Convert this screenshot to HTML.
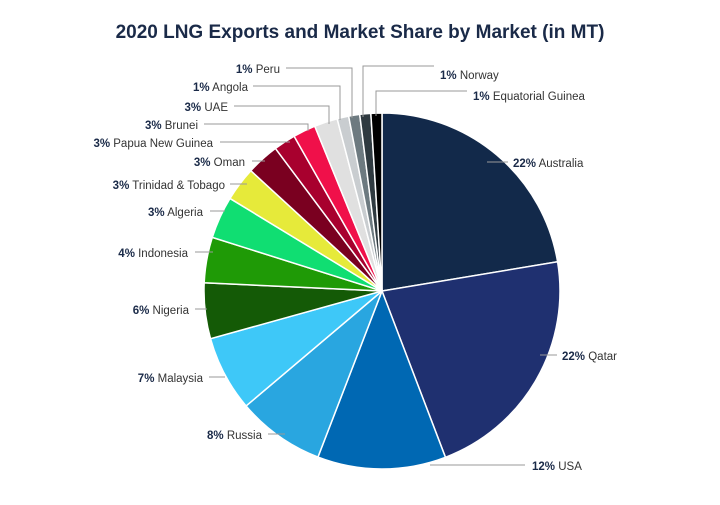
<!DOCTYPE html>
<html><head><meta charset="utf-8"><style>
body{margin:0;background:#fff;width:720px;height:500px;overflow:hidden}
svg{font-family:"Liberation Sans",sans-serif}
</style></head><body>
<svg id="c" width="720" height="500">
<text x="360" y="38" text-anchor="middle" font-size="19" font-weight="bold" fill="#1a2a48">2020 LNG Exports and Market Share by Market (in MT)</text>
<g id="slices"></g><g id="labels"></g>
</svg>
<script>
const categories=["Australia","Qatar","USA","Russia","Malaysia","Nigeria","Indonesia","Algeria","Trinidad & Tobago","Oman","Papua New Guinea","Brunei","UAE","Angola","Peru","Norway","Equatorial Guinea"];
const values=[80.6,78.6,42,28.7,24.7,18.2,14.9,13.8,11.2,10.7,7.2,7.4,7.6,3.8,3.6,3.6,3.6];
const pctLabels=["22%","22%","12%","8%","7%","6%","4%","3%","3%","3%","3%","3%","3%","1%","1%","1%","1%"];
const colors=["#12294a","#1f3070","#0068b3","#29a6e0","#3ec8f8","#145a06","#1f9a06","#10de72","#e6ea3a","#7a0020","#a8002e","#f0104a","#e0e0e0","#c9cdd0","#6d7a80","#2f3a40","#000000"];
// label layout: [textX, textY, anchor, leader points]
const layout=[
[513,167,"start",[[487,162],[508,162]]],
[562,360,"start",[[540,355],[557,355]]],
[532,470,"start",[[430,465],[525,465]]],
[262,439,"end",[[268,434],[285,434]]],
[203,382,"end",[[209,377],[225,377]]],
[189,314,"end",[[195,309],[207,309]]],
[188,257,"end",[[195,252],[213,252]]],
[203,216,"end",[[210,211],[225,211]]],
[225,189,"end",[[230,184],[247,184]]],
[245,166,"end",[[252,161],[265,161]]],
[213,147,"end",[[220,142],[290,142]]],
[198,129,"end",[[204,124],[308,124],[308,131]]],
[228,111,"end",[[234,106],[329,106],[329,124]]],
[248,91,"end",[[253,86],[340,86],[340,120]]],
[280,73,"end",[[286,68],[352,68],[352,118]]],
[440,79,"start",[[363,117],[363,66],[434,66]]],
[473,100,"start",[[376,116],[376,91],[467,91]]]
];
const cx=382,cy=291,R=178,NS="http://www.w3.org/2000/svg";
const total=values.reduce((a,b)=>a+b,0);
function pt(a,r){return [cx+r*Math.sin(a),cy-r*Math.cos(a)];}
let a0=0;const gs=document.getElementById('slices'),gl=document.getElementById('labels');
values.forEach((v,i)=>{
 const a1=a0+v/total*2*Math.PI;const p0=pt(a0,R),p1=pt(a1,R);
 const p=document.createElementNS(NS,'path');
 p.setAttribute('d',`M${cx},${cy}L${p0[0]},${p0[1]}A${R},${R} 0 ${a1-a0>Math.PI?1:0} 1 ${p1[0]},${p1[1]}Z`);
 p.setAttribute('fill',colors[i]);p.setAttribute('stroke','#fff');p.setAttribute('stroke-width','1.5');
 
 
 gs.appendChild(p);a0=a1;
 const L=layout[i];
 const pl=document.createElementNS(NS,'polyline');
 pl.setAttribute('points',L[3].map(q=>q.join(',')).join(' '));
 pl.setAttribute('fill','none');pl.setAttribute('stroke','#999');pl.setAttribute('stroke-width','1');
 
 
 gl.appendChild(pl);
 const t=document.createElementNS(NS,'text');
 t.setAttribute('x',L[0]);t.setAttribute('y',L[1]);t.setAttribute('text-anchor',L[2]);
 t.setAttribute('font-size','11.5');t.setAttribute('fill','#333');
 t.innerHTML=`<tspan font-weight="bold" fill="#1a2a48">${pctLabels[i]}</tspan> ${categories[i].replace('&','&amp;')}`;
 
 
 gl.appendChild(t);
});
</script>
</body></html>
